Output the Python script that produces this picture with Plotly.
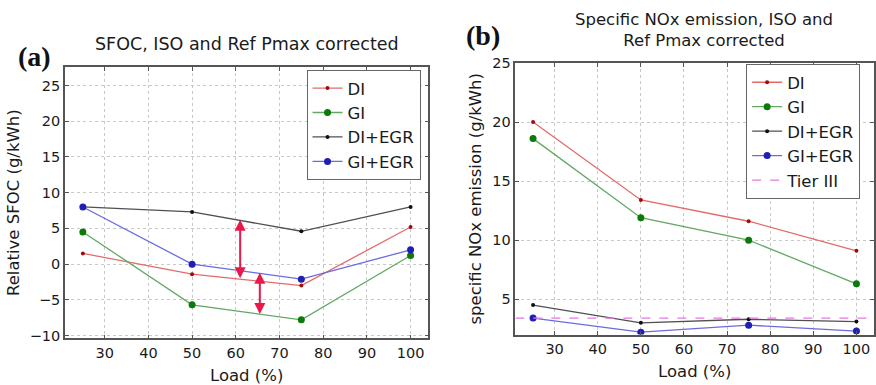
import plotly.graph_objects as go

# ---- data ----
loads = [25, 50, 75, 100]

sfoc_di = [1.5, -1.4, -3.0, 5.2]
sfoc_gi = [4.5, -5.7, -7.8, 1.2]
sfoc_di_egr = [8.0, 7.3, 4.6, 8.0]
sfoc_gi_egr = [8.0, 0.0, -2.1, 2.0]

nox_di = [20.0, 13.4, 11.6, 9.1]
nox_gi = [18.6, 11.9, 10.0, 6.3]
nox_di_egr = [4.5, 3.0, 3.3, 3.1]
nox_gi_egr = [3.4, 2.2, 2.8, 2.3]
tier3_level = 3.4

arrow_x = [61, 65.5]
arrow_top = [6.2, -1.2]
arrow_bottom = [-2.2, -7.2]

x_ticks = [30, 40, 50, 60, 70, 80, 90, 100]
y_ticks_a = [-10, -5, 0, 5, 10, 15, 20, 25]
y_ticks_b = [5, 10, 15, 20, 25]
x_range = [20.9, 104.1]
y_range_a = [-10.4, 27.6]
y_range_b = [2.0, 25.0]

# ---- styles ----
series_style = {
    "DI": dict(line="#e46a6a", marker="#a50a0a", size=4),
    "GI": dict(line="#62a862", marker="#0b7a0b", size=7),
    "DI+EGR": dict(line="#505050", marker="#111111", size=4),
    "GI+EGR": dict(line="#6b6be0", marker="#1f1fb5", size=7),
}
FONT = "DejaVu Sans"

fig = go.Figure()

def add_series(name, x, y, xa, ya, legend):
    st = series_style[name]
    fig.add_trace(go.Scatter(
        x=x, y=y, name=name, mode="lines+markers",
        line=dict(color=st["line"], width=1.3),
        marker=dict(color=st["marker"], size=st["size"]),
        xaxis=xa, yaxis=ya, legend=legend,
    ))

for name, vals in [("DI", sfoc_di), ("GI", sfoc_gi), ("DI+EGR", sfoc_di_egr), ("GI+EGR", sfoc_gi_egr)]:
    add_series(name, loads, vals, "x", "y", "legend")

for name, vals in [("DI", nox_di), ("GI", nox_gi), ("DI+EGR", nox_di_egr), ("GI+EGR", nox_gi_egr)]:
    add_series(name, loads, vals, "x2", "y2", "legend2")

fig.add_trace(go.Scatter(
    x=x_range, y=[tier3_level, tier3_level], name="Tier III", mode="lines",
    line=dict(color="#e27be2", width=1.3, dash="dash"),
    xaxis="x2", yaxis="y2", legend="legend2",
))

# arrows
for ax_, yt, yb in zip(arrow_x, arrow_top, arrow_bottom):
    fig.add_annotation(
        x=ax_, y=yt, ax=ax_, ay=yb, xref="x", yref="y", axref="x", ayref="y",
        showarrow=True, arrowhead=2, arrowside="end+start", arrowsize=1.1,
        arrowwidth=2, arrowcolor="#e8194a", text="",
    )

axis_common = dict(
    showline=True, linecolor="#555555", linewidth=1.5, mirror="ticks",
    ticks="inside", ticklen=4, tickcolor="#555555",
    showgrid=True, gridcolor="#c8c8c8", griddash="dot", gridwidth=1,
    zeroline=False, tickfont=dict(family=FONT, size=14.5, color="#1a1a1a"),
)

fig.update_layout(
    width=876, height=385, margin=dict(l=0, r=0, t=0, b=0),
    paper_bgcolor="white", plot_bgcolor="white",
    font=dict(family=FONT, color="#1a1a1a"),
    xaxis=dict(domain=[0.0742, 0.4897], range=x_range, tickvals=x_ticks, anchor="y",
               title=dict(text="Load (%)", font=dict(size=16.5), standoff=10), **axis_common),
    yaxis=dict(domain=[0.1117, 0.8416], range=y_range_a, tickvals=y_ticks_a, anchor="x",
               title=dict(text="Relative SFOC (g/kWh)", font=dict(size=16.5), standoff=6), **axis_common),
    xaxis2=dict(domain=[0.589, 0.999], range=x_range, tickvals=x_ticks, anchor="y2",
                title=dict(text="Load (%)", font=dict(size=16.5), standoff=10), **axis_common),
    yaxis2=dict(domain=[0.1221, 0.852], range=y_range_b, tickvals=y_ticks_b, anchor="x2",
                title=dict(text="specific NOx emission (g/kWh)", font=dict(size=16.5), standoff=6), **axis_common),
    legend=dict(x=0.4806, y=1 - 64 / 385, xanchor="right", yanchor="top",
                bgcolor="white", bordercolor="#666666", borderwidth=1,
                font=dict(family=FONT, size=16.5), tracegroupgap=0),
    legend2=dict(x=0.983, y=1 - 58 / 385, xanchor="right", yanchor="top",
                 bgcolor="white", bordercolor="#666666", borderwidth=1,
                 font=dict(family=FONT, size=16.5), tracegroupgap=0),
    showlegend=True,
)

fig.add_annotation(text="SFOC, ISO and Ref Pmax corrected", x=247 / 876, y=1 - 37 / 385,
                   xref="paper", yref="paper", showarrow=False,
                   font=dict(family=FONT, size=17.5), xanchor="center", yanchor="middle")
fig.add_annotation(text="Specific NOx emission, ISO and<br>Ref Pmax corrected", x=705 / 876, y=1 - 23 / 385,
                   xref="paper", yref="paper", showarrow=False, align="center",
                   font=dict(family=FONT, size=16.5), xanchor="center", yanchor="middle")
fig.add_annotation(text="<b>(a)</b>", x=16 / 876, y=1 - 50 / 385, xref="paper", yref="paper",
                   showarrow=False, xanchor="left", yanchor="middle",
                   font=dict(family="Liberation Serif", size=28, color="#111111"))
fig.add_annotation(text="<b>(b)</b>", x=465 / 876, y=1 - 28 / 385, xref="paper", yref="paper",
                   showarrow=False, xanchor="left", yanchor="middle",
                   font=dict(family="Liberation Serif", size=28, color="#111111"))

fig.write_html("out.html")
